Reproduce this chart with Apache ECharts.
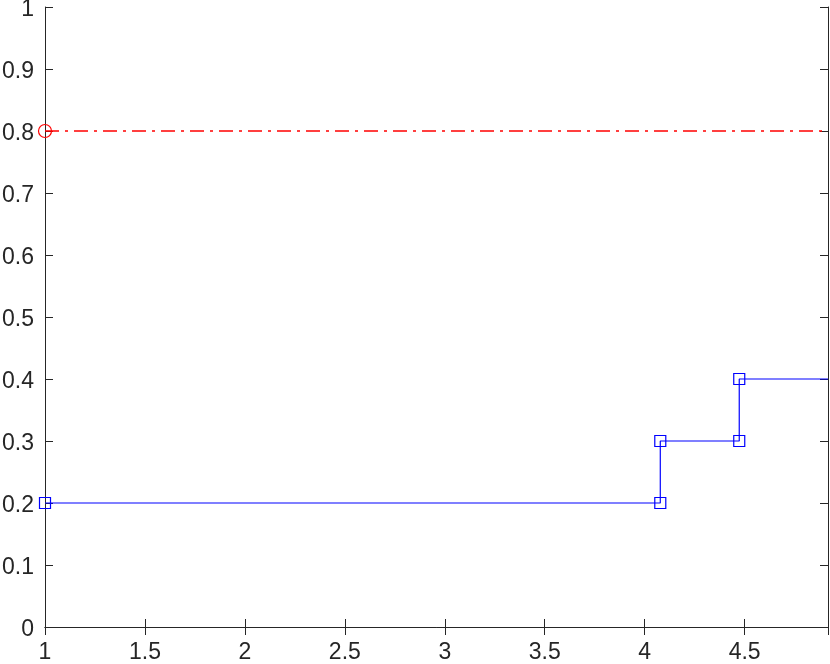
<!DOCTYPE html>
<html>
<head>
<meta charset="utf-8">
<script src="https://cdn.jsdelivr.net/npm/echarts@6/dist/echarts.min.js"></script>
<style>html,body{margin:0;padding:0;background:#fff;}#c{width:830px;height:664px;}</style>
</head>
<body>
<div id="c"></div>
<script>
const xMin = 1, xMax = 4.917;
const blueX = [1, 4.078, 4.078, 4.473, 4.473, 4.917];
const blueY = [0.2, 0.2, 0.3, 0.3, 0.4, 0.4];
const redX = [1, 4.917];
const redY = [0.8, 0.8];
const xTicks = [1, 1.5, 2, 2.5, 3, 3.5, 4, 4.5];
const yTicks = [0, 0.1, 0.2, 0.3, 0.4, 0.5, 0.6, 0.7, 0.8, 0.9, 1];

const axisColor = '#262626';
const font = 'Liberation Sans, Arial, sans-serif';

function pts(xs, ys){ return xs.map((x,i)=>[x, ys[i]]); }

const blueData = pts(blueX, blueY).map((p,i,a)=> i===a.length-1 ? {value:p, symbol:'none'} : p);
const redData = pts(redX, redY).map((p,i)=> i===0 ? p : {value:p, symbol:'none'});

const chart = echarts.init(document.getElementById('c'), null, {renderer:'canvas'});
const common = {
  axisLine:{show:true, lineStyle:{color:axisColor, width:1}},
  axisTick:{show:true, inside:true, length:8, lineStyle:{color:axisColor}},
  splitLine:{show:false}
};
chart.setOption({
  animation:false,
  grid:{left:45, right:2, top:7, bottom:37, containLabel:false, outerBoundsMode:'none'},
  xAxis:[
    Object.assign({type:'value', min:xMin, max:xMax, interval:0.5, position:'bottom',
      axisLabel:{show:true, color:axisColor, fontSize:23, fontFamily:font, margin:14, showMaxLabel:false,
        formatter:v=>xTicks.includes(+v.toFixed(2)) ? String(+v.toFixed(2)) : ''}}, common),
    Object.assign({type:'value', min:xMin, max:xMax, interval:0.5, position:'top',
      axisLabel:{show:false}}, common)
  ],
  yAxis:[
    Object.assign({type:'value', min:0, max:1, interval:0.1, position:'left',
      axisLabel:{show:true, color:axisColor, fontSize:23, fontFamily:font, margin:11,
        rich:{t:{color:axisColor, fontSize:23, fontFamily:font, padding:[5,0,0,0]}},
        formatter:v=>{const r=+v.toFixed(2); return yTicks.includes(r)?'{t|'+String(r)+'}':'';}}}, common),
    Object.assign({type:'value', min:0, max:1, interval:0.1, position:'right',
      axisLabel:{show:false}}, common)
  ],
  series:[
    {type:'line', xAxisIndex:0, yAxisIndex:0, data:redData, symbol:'circle', symbolSize:13,
      showAllSymbol:true,
      itemStyle:{color:'rgba(0,0,0,0)', borderColor:'#ff0000', borderWidth:1.2},
      lineStyle:{color:'#ff0000', width:1.4, type:[14,6,3,6]}, z:3},
    {type:'line', xAxisIndex:0, yAxisIndex:0, data:blueData, symbol:'rect', symbolSize:11,
      showAllSymbol:true,
      itemStyle:{color:'rgba(0,0,0,0)', borderColor:'#0000ff', borderWidth:1.2},
      lineStyle:{color:'#0000ff', width:1.2}, z:3}
  ]
});
</script>
</body>
</html>
